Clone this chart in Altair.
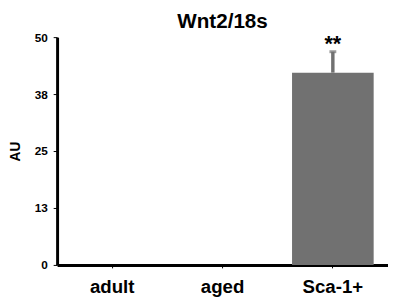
import altair as alt
import pandas as pd

categories = ["adult", "aged", "Sca-1+"]
values = [0.0, 0.0, 42.2]
errors = [0.0, 0.0, 4.6]
stars = ["", "", "**"]

df = pd.DataFrame({
    "group": categories,
    "value": values,
    "err": errors,
    "star": stars,
})
df["top"] = df["value"] + df["err"]

FONT = "Liberation Sans"
GRAY = "#717171"

x = alt.X("group:N", sort=categories,
          scale=alt.Scale(paddingInner=0.26, paddingOuter=0.13),
          axis=alt.Axis(title=None, labelAngle=0, labelFont=FONT, labelFontSize=19,
                        labelFontWeight="bold", labelColor="black", labelPadding=10,
                        domainColor="black", domainWidth=3, tickColor="black",
                        tickSize=3, tickWidth=1))
y_scale = alt.Scale(domain=[0, 50], nice=False)

bars = alt.Chart(df).mark_bar(color=GRAY).encode(
    x=x,
    y=alt.Y("value:Q", scale=y_scale,
            axis=alt.Axis(title="AU", values=[0, 12.5, 25, 37.5, 50], format=".0f",
                          grid=False, labelFont=FONT, labelFontSize=12,
                          labelFontWeight="bold", labelColor="black", labelPadding=6,
                          titleFont=FONT, titleFontSize=14, titleFontWeight="bold",
                          titleColor="black", titlePadding=12,
                          domainColor="black", domainWidth=3, tickColor="black",
                          tickSize=4, tickWidth=1)),
)

err_df = df[df["err"] > 0]

stem = alt.Chart(err_df).mark_rule(color=GRAY, strokeWidth=3.5).encode(
    x=alt.X("group:N", sort=categories),
    y=alt.Y("value:Q", scale=y_scale),
    y2="top:Q",
)

cap = alt.Chart(err_df).mark_tick(color=GRAY, size=7, thickness=3, orient="horizontal").encode(
    x=alt.X("group:N", sort=categories),
    y=alt.Y("top:Q", scale=y_scale),
)

star = alt.Chart(err_df).mark_text(font=FONT, fontSize=22, fontWeight="bold",
                                   color="black", baseline="bottom", dy=4).encode(
    x=alt.X("group:N", sort=categories),
    y=alt.Y("top:Q", scale=y_scale),
    text="star:N",
)

chart = alt.layer(bars, stem, cap, star).properties(
    width=337, height=232,
    title=alt.TitleParams("Wnt2/18s", font=FONT, fontSize=21, fontWeight="bold",
                          color="black", offset=-1, anchor="middle", frame="group"),
    autosize=alt.AutoSizeParams(type="none"),
    padding={"left": 50, "top": 27, "right": 0, "bottom": 31},
).configure_view(stroke=None)

chart.save("out.html", embed_options={"renderer": "svg", "actions": False})
